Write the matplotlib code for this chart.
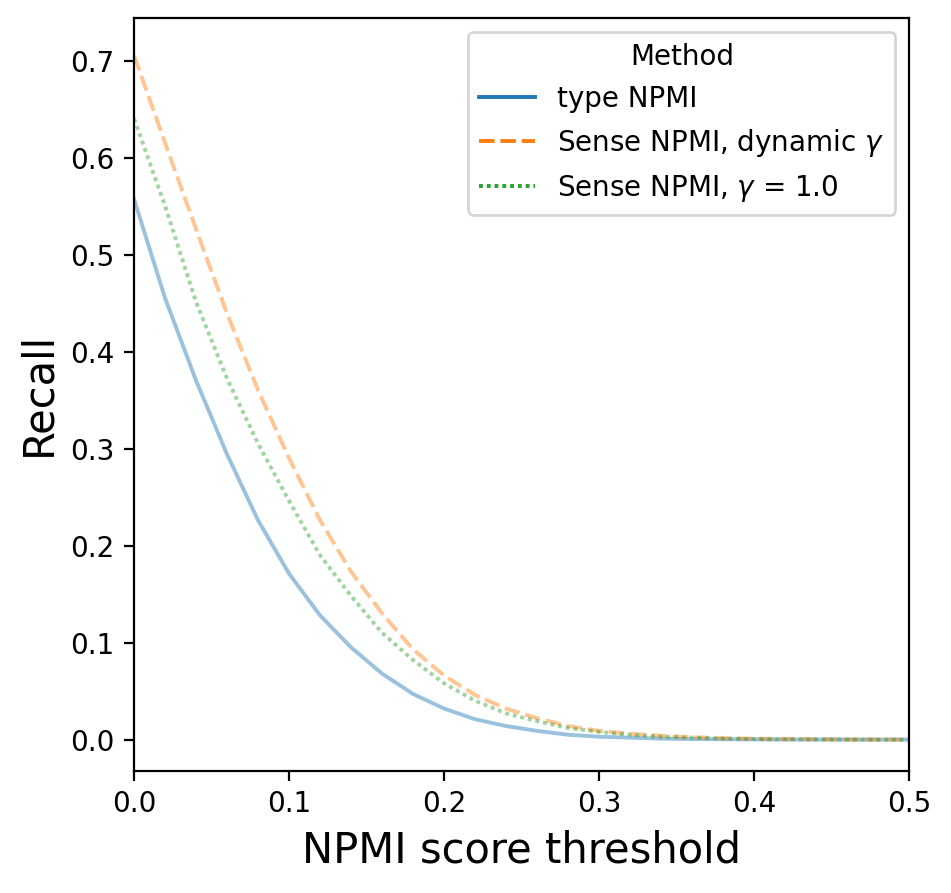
import numpy as np
import matplotlib.pyplot as plt

# NPMI score thresholds (x) and recall
thresholds = [0.00, 0.02, 0.04, 0.06, 0.08, 0.10, 0.12, 0.14, 0.16, 0.18,
              0.20, 0.22, 0.24, 0.26, 0.28, 0.30, 0.32, 0.34, 0.36, 0.38,
              0.40, 0.42, 0.44, 0.46, 0.48, 0.50]

recall_type = [0.557, 0.455, 0.370, 0.294, 0.226, 0.171, 0.128, 0.095, 0.068, 0.047,
               0.032, 0.021, 0.014, 0.009, 0.005, 0.003, 0.002, 0.001, 0.0006, 0.0004,
               0.0002, 0.0001, 0.0001, 0.0, 0.0, 0.0]

recall_dynamic = [0.705, 0.615, 0.526, 0.439, 0.360, 0.290, 0.226, 0.173, 0.130, 0.093,
                  0.066, 0.046, 0.032, 0.022, 0.014, 0.009, 0.006, 0.004, 0.0025, 0.0015,
                  0.001, 0.0006, 0.0004, 0.0002, 0.0001, 0.0]

recall_gamma1 = [0.640, 0.550, 0.451, 0.372, 0.305, 0.246, 0.190, 0.148, 0.110, 0.082,
                 0.058, 0.040, 0.027, 0.019, 0.012, 0.008, 0.005, 0.003, 0.002, 0.001,
                 0.0006, 0.0004, 0.0002, 0.0001, 0.0, 0.0]

labels = ["type NPMI", r"Sense NPMI, dynamic $\gamma$", r"Sense NPMI, $\gamma$ = 1.0"]
colors = ["#1f77b4", "#ff7f0e", "#2ca02c"]
dashes = [(None, None), (4, 1.5), (1, 1)]

fig = plt.figure(figsize=(4.755, 4.465), dpi=200)
ax = fig.add_subplot(111)
fig.subplots_adjust(left=0.141, right=0.956, top=0.980, bottom=0.137)

series = [recall_type, recall_dynamic, recall_gamma1]
for vals, lab, col, dsh in zip(series, labels, colors, dashes):
    line, = ax.plot(thresholds, vals, color=col, lw=1.4, alpha=0.45, label=lab)
    if dsh[0] is not None:
        line.set_dashes(dsh)

ax.set_xlim(0, 0.5)
ax.set_ylim(-0.032, 0.744)
ax.set_xticks([0.0, 0.1, 0.2, 0.3, 0.4, 0.5])
ax.set_yticks([0.0, 0.1, 0.2, 0.3, 0.4, 0.5, 0.6, 0.7])
ax.set_xlabel("NPMI score threshold", fontsize=15)
ax.set_ylabel("Recall", fontsize=15)

leg = ax.legend(title="Method", loc="upper right")
for h in leg.get_lines():
    h.set_alpha(1)

plt.savefig("out.png", dpi=200)
